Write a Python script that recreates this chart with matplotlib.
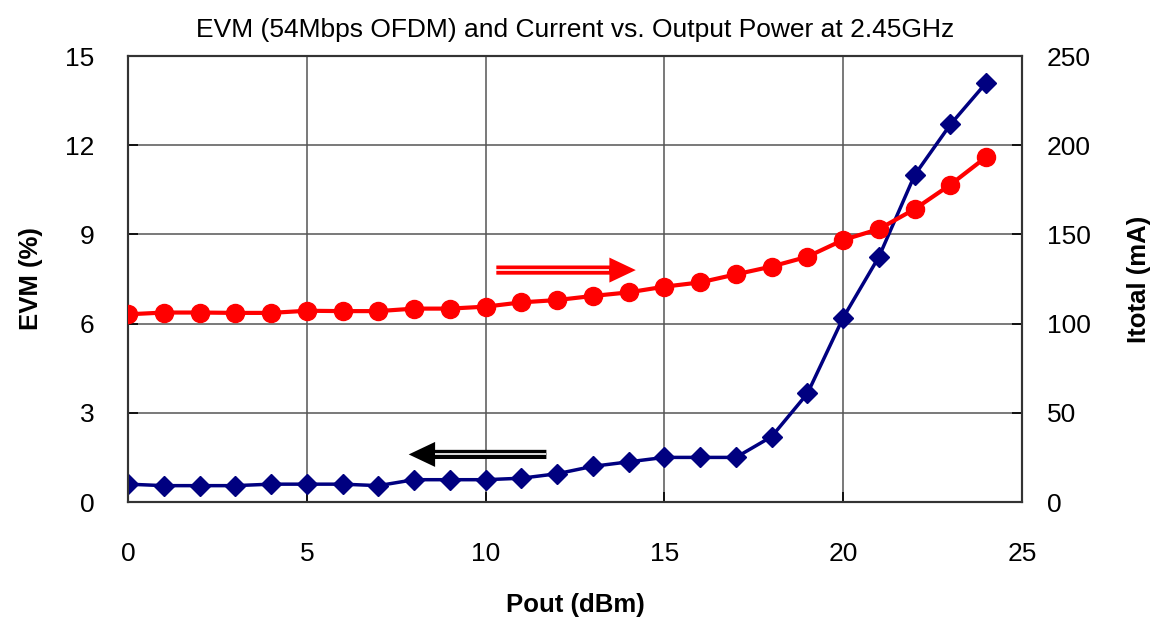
import matplotlib
matplotlib.use("Agg")
import matplotlib.pyplot as plt

plt.rcParams['font.family'] = ['Liberation Sans', 'DejaVu Sans']

pout = list(range(0, 25))
evm = [0.6, 0.55, 0.55, 0.55, 0.6, 0.6, 0.6, 0.55, 0.75, 0.75, 0.75, 0.8, 0.95,
       1.2, 1.35, 1.5, 1.5, 1.5, 2.2, 3.65, 6.2, 8.25, 11.0, 12.7, 14.1]
itotal = [105.2, 106.2, 106.2, 106.0, 106.0, 107.2, 107.0, 107.0, 108.4, 108.4, 109.5,
          111.9, 113.2, 115.5, 117.5, 120.7, 123.1, 127.6, 132.0, 137.5, 146.9,
          153.0, 164.2, 177.9, 193.4]
xticks = [0, 5, 10, 15, 20, 25]
yticks_left = [0, 3, 6, 9, 12, 15]
yticks_right = [0, 50, 100, 150, 200, 250]

fig = plt.figure(figsize=(11.57, 6.19), dpi=100)
ax = fig.add_axes([128/1157, 1-502/619, (1022-128)/1157, (502-56)/619])
ax2 = ax.twinx()

ax.set_xlim(0, 25)
ax.set_ylim(0, 15)
ax2.set_ylim(0, 250)
ax.set_xticks(xticks)
ax.set_yticks(yticks_left)
ax2.set_yticks(yticks_right)

ax.grid(True, color='#555555', linewidth=1.1)
ax.set_axisbelow(True)

for a in (ax, ax2):
    for s in a.spines.values():
        s.set_color('#333333')
        s.set_linewidth(1.5)
    a.tick_params(direction='in', length=7, width=1.2, labelsize=19)
ax.tick_params(axis='y', pad=24)
ax2.tick_params(axis='y', pad=18)
ax.tick_params(axis='x', pad=29)

ax.plot(pout, evm, color='#000080', linewidth=2.5, marker='D', markersize=10.5, zorder=3)
ax2.plot(pout, itotal, color='#ff0000', linewidth=3, marker='o', markersize=13, zorder=3)

ax.set_title('EVM (54Mbps OFDM) and Current vs. Output Power at 2.45GHz', fontsize=19, pad=14)
ax.set_xlabel('Pout (dBm)', fontsize=18.5, fontweight='bold', labelpad=19)
ax.set_ylabel('EVM (%)', fontsize=18.5, fontweight='bold', labelpad=16)
ax2.set_ylabel('Itotal (mA)', fontsize=18.5, fontweight='bold', labelpad=26)

# double-line arrows
def dbl_arrow(axis, x0, x1, y, color):
    axis.annotate('', xy=(x1, y), xytext=(x0, y),
                  arrowprops=dict(arrowstyle='simple,head_length=0.95,head_width=0.9,tail_width=0.33',
                                  mutation_scale=20, facecolor=color, edgecolor='none',
                                  linewidth=0, shrinkA=0, shrinkB=0),
                  zorder=4)
    xm = x1 - (x1 - x0) * 0.19
    axis.plot([x0, xm], [y, y], color='white', linewidth=1.2, zorder=5,
              solid_capstyle='butt')

dbl_arrow(ax2, 10.3, 14.2, 130, '#ff0000')
dbl_arrow(ax, 11.7, 7.85, 1.6, '#000000')

fig.savefig('out.png', dpi=100)
